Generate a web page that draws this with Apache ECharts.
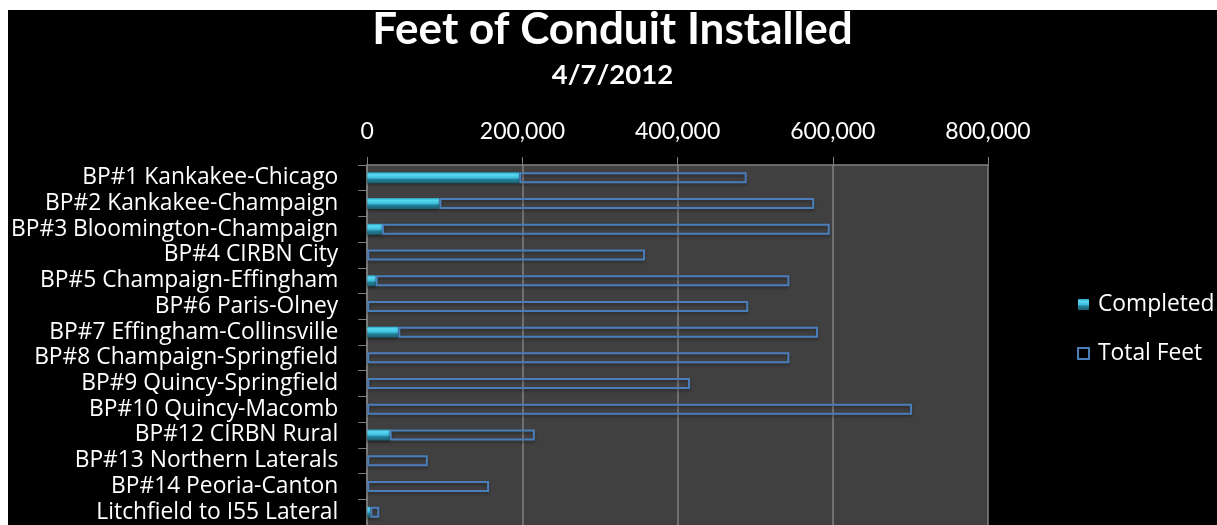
<!DOCTYPE html>
<html>
<head>
<meta charset="utf-8">
<script src="https://cdn.jsdelivr.net/npm/echarts@6/dist/echarts.min.js"></script>
<style>
html,body{margin:0;padding:0;background:#fff;}
#c{position:absolute;left:8px;top:10px;width:1209px;height:515px;background:#000;}
</style>
</head>
<body>
<div id="c"></div>
<script>
const categories = ['BP#1 Kankakee-Chicago','BP#2 Kankakee-Champaign','BP#3 Bloomington-Champaign','BP#4 CIRBN City','BP#5 Champaign-Effingham','BP#6 Paris-Olney','BP#7 Effingham-Collinsville','BP#8 Champaign-Springfield','BP#9 Quincy-Springfield','BP#10 Quincy-Macomb','BP#12 CIRBN Rural','BP#13 Northern Laterals','BP#14 Peoria-Canton','Litchfield to I55 Lateral'];
const completed = [196000, 93000, 19000, 0, 11000, 0, 40000, 0, 0, 0, 29000, 0, 0, 4000];
const totalFeet = [489000, 576000, 596000, 358000, 544000, 491000, 581000, 544000, 416000, 702000, 216000, 78000, 157000, 15500];
const remaining = totalFeet.map((t, i) => t - completed[i]);

const FONT = 'Lato';
const LFONT = 'Open Sans';
const chart = echarts.init(document.getElementById('c'), null, {renderer: 'canvas'});
chart.setOption({
  backgroundColor: '#000',
  animation: false,
  title: {
    text: 'Feet of Conduit Installed',
    subtext: '4/7/2012',
    left: 'center',
    top: -7,
    itemGap: 9,
    textStyle: {color: '#fff', fontFamily: FONT, fontWeight: 'bold', fontSize: 44},
    subtextStyle: {color: '#fff', fontFamily: FONT, fontWeight: 'bold', fontSize: 27.5}
  },
  legend: {
    orient: 'vertical',
    left: 1064,
    top: 278,
    icon: 'rect',
    itemWidth: 11,
    itemHeight: 11,
    itemGap: 26,
    textStyle: {color: '#fff', fontFamily: LFONT, fontSize: 22.8, lineHeight: 22, padding: [0, 0, 0, 4]},
    data: ['Completed', 'Total Feet']
  },
  grid: {left: 359, top: 155, width: 621, height: 361, containLabel: false,
    show: true, backgroundColor: '#404040', borderWidth: 0},
  xAxis: {
    type: 'value',
    position: 'top',
    min: 0, max: 800000, interval: 200000,
    axisLine: {show: true, lineStyle: {color: '#808080', width: 1.5}},
    axisTick: {show: true, length: 8, lineStyle: {color: '#808080'}},
    splitLine: {show: true, lineStyle: {color: '#808080', width: 1.5}},
    axisLabel: {color: '#fff', fontFamily: FONT, fontSize: 23, margin: 22,
      formatter: v => v.toLocaleString('en-US')}
  },
  yAxis: {
    type: 'category',
    inverse: true,
    data: categories,
    axisLine: {show: true, lineStyle: {color: '#808080', width: 1.5}},
    axisTick: {show: true, length: 9, lineStyle: {color: '#808080'}},
    axisLabel: {color: '#fff', fontFamily: LFONT, fontSize: 22.8, margin: 29, interval: 0, padding: [4, 0, 0, 0]}
  },
  series: [
    {
      name: 'Completed',
      type: 'bar',
      stack: 'a',
      barWidth: 11,
      data: completed,
      itemStyle: {
        color: new echarts.graphic.LinearGradient(0, 0, 0, 1, [
          {offset: 0, color: '#2a9fbf'},
          {offset: 0.2, color: '#5ad8f2'},
          {offset: 0.5, color: '#3cbfdd'},
          {offset: 0.65, color: '#24809a'},
          {offset: 1, color: '#1b5f70'}
        ]),
        shadowColor: 'rgba(0,0,0,0.5)', shadowBlur: 3, shadowOffsetY: 2
      }
    },
    {
      name: 'Total Feet',
      type: 'bar',
      stack: 'a',
      barWidth: 11,
      data: remaining,
      itemStyle: {
        color: 'rgba(0,0,0,0)',
        borderColor: '#4a7ebb',
        borderWidth: 2,
        shadowColor: 'rgba(0,0,0,0.35)', shadowBlur: 3, shadowOffsetY: 2
      }
    }
  ]
});
</script>
</body>
</html>
